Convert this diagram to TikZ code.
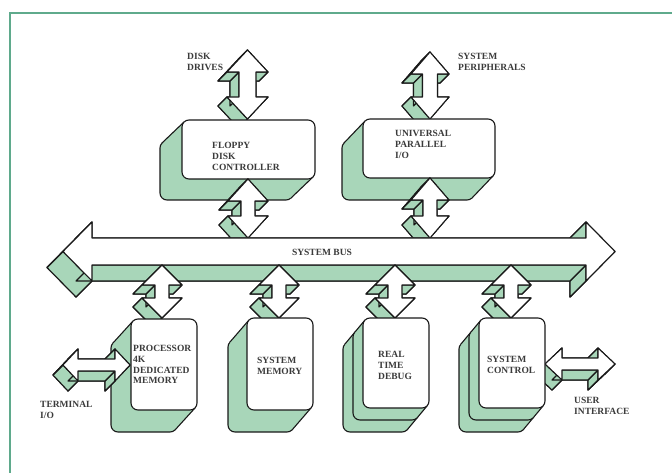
\documentclass[tikz,border=0pt]{standalone}
\usepackage{fontspec}
\setmainfont{Liberation Serif}
\definecolor{mint}{RGB}{168,214,185}
\definecolor{ink}{RGB}{25,25,25}
\definecolor{framec}{RGB}{95,170,140}
\tikzset{
  side/.style={fill=mint, draw=ink, line width=1.1pt, line join=round},
  front/.style={fill=white, draw=ink, line width=1.1pt, line join=round},
  band/.style={fill=mint},
  edge/.style={draw=ink, line width=1.1pt},
  lbl/.style={anchor=north west, align=left, inner sep=0pt, font=\fontsize{9.5}{10.8}\selectfont\bfseries, text=ink!85}
}
% extruded polygon: #1 dx, #2 dy, #3 clockwise list x/y
\newcommand\myextr[3]{%
  \foreach \x/\y [count=\i] in {#3} {\ifnum\i=1 \xdef\myfx{\x}\xdef\myfy{\y}\fi \xdef\mylx{\x}\xdef\myly{\y}}
  \filldraw[side, shift={(#1,#2)}] (\myfx,\myfy) \foreach \x/\y in {#3} { -- (\x,\y) } -- cycle;
  \foreach \x/\y [remember=\x as \px (initially \mylx), remember=\y as \py (initially \myly)] in {#3} {
    \pgfmathsetmacro\ff{((\x)-(\px))*(#2)-((\y)-(\py))*(#1)}
    \ifdim\ff pt>0pt \filldraw[side] (\px,\py) -- (\x,\y) -- ++(#1,#2) -- ++({(\px)-(\x)},{(\py)-(\y)}) -- cycle;\fi
  }
  \foreach \x/\y [remember=\x as \px (initially \mylx), remember=\y as \py (initially \myly)] in {#3} {
    \pgfmathsetmacro\ff{((\x)-(\px))*(#2)-((\y)-(\py))*(#1)}
    \ifdim\ff pt<0pt \filldraw[side] (\px,\py) -- (\x,\y) -- ++(#1,#2) -- ++({(\px)-(\x)},{(\py)-(\y)}) -- cycle;\fi
  }
  \filldraw[front] (\myfx,\myfy) \foreach \x/\y in {#3} { -- (\x,\y) } -- cycle;
}
% vertical double arrow: cx yt yb w s h dx dy
\newcommand\myvarrow[8]{\myextr{#7}{#8}{#1/#2, #1+#4/#2+#6, #1+#5/#2+#6, #1+#5/#3-#6, #1+#4/#3-#6, #1/#3, #1-#4/#3-#6, #1-#5/#3-#6, #1-#5/#2+#6, #1-#4/#2+#6}}
% horizontal double arrow: xl xr cy w s h dx dy
\newcommand\myharrow[8]{\myextr{#7}{#8}{#1/#3, #1+#6/#3-#4, #1+#6/#3-#5, #2-#6/#3-#5, #2-#6/#3-#4, #2/#3, #2-#6/#3+#4, #2-#6/#3+#5, #1+#6/#3+#5, #1+#6/#3+#4}}
% slab behind a card: x1 y1 x2 y2 dx dy
\newcommand\myslab[6]{%
  \filldraw[side, rounded corners=7pt] ({#1+(#5)},{#2+(#6)}) rectangle ({#3+(#5)},{#4+(#6)});
  \fill[band] ({#1+2},{#2+2}) -- ++(#5,#6) -- ({#3-2+(#5)},{#4-2+(#6)}) -- ({#3-2},{#4-2}) -- cycle;
  \draw[edge] ({#1+2},{#2+2}) -- ++(#5,#6);
  \draw[edge] ({#3-2},{#4-2}) -- ++(#5,#6);
}
\newcommand\mycard[4]{\filldraw[front, rounded corners=7pt] (#1,#2) rectangle (#3,#4);}

\begin{document}
\begin{tikzpicture}[x=1pt,y=-1pt]
\useasboundingbox (0,0) rectangle (672,473);
\draw[framec, line width=2pt] (10,473) -- (10,13) -- (672,13);

% upper external arrows
\myvarrow{247.5}{50}{119}{20.5}{8.5}{22}{-9}{9}
\myvarrow{430}{52}{119}{19}{7.5}{22}{-9}{9}

% upper boxes
\myslab{182}{120}{315}{179}{-22}{21}
\mycard{182}{120}{315}{179}
\myslab{363}{119}{495}{178}{-21}{22}
\mycard{363}{119}{495}{178}

% upper box to bus arrows
\myvarrow{248}{179}{238}{20}{7}{22}{-9}{9}
\myvarrow{430}{178}{238}{19}{7}{22}{-9}{9}

% system bus
\myharrow{63}{615}{251.5}{29.5}{13.5}{29}{-16}{16}

% bus to lower boxes
\myvarrow{162}{265}{318}{20}{7}{20}{-9}{9}
\myvarrow{279}{265}{318}{20}{7}{20}{-9}{9}
\myvarrow{395}{265}{318}{20}{7}{20}{-9}{9}
\myvarrow{511}{265}{318}{20}{7}{20}{-9}{9}

% user interface arrow (behind control box)
\myharrow{545}{615}{364}{16}{6}{17}{-10}{10}

% lower boxes
\myslab{131}{319}{197}{410}{-20}{22}
\mycard{131}{319}{197}{410}
\myslab{247}{318}{313}{410}{-19}{22}
\mycard{247}{318}{313}{410}
\myslab{353}{330}{419}{420}{-10}{12}
\myslab{363}{318}{429}{408}{-10}{12}
\mycard{363}{318}{429}{408}
\myslab{469}{330}{535}{420}{-10}{12}
\myslab{479}{318}{545}{408}{-10}{12}
\mycard{479}{318}{545}{408}

% terminal arrow (over processor slab)
\myharrow{63}{130}{365}{16}{6}{15}{-10}{10}

% labels
\node[lbl] (dd) at (187,53) {DISK\\DRIVES};
\node[lbl] (sp) at (458,53) {SYSTEM\\PERIPHERALS};
\node[lbl] (fdc) at (212,142) {FLOPPY\\DISK\\CONTROLLER};
\node[lbl] (upio) at (395,130) {UNIVERSAL\\PARALLEL\\I/O};
\node[anchor=center, inner sep=0pt, font=\fontsize{9.5}{10.8}\selectfont\bfseries, text=ink!85] (bus) at (322,252) {SYSTEM BUS};
\node[lbl] (proc) at (133,345) {PROCESSOR\\4K\\DEDICATED\\MEMORY};
\node[lbl] (mem) at (257,357) {SYSTEM\\MEMORY};
\node[lbl] (dbg) at (378,351) {REAL\\TIME\\DEBUG};
\node[lbl] (ctl) at (487,356) {SYSTEM\\CONTROL};
\node[lbl] (tio) at (40,401) {TERMINAL\\I/O};
\node[lbl] (ui) at (574,397) {USER\\INTERFACE};
\end{tikzpicture}
\end{document}
